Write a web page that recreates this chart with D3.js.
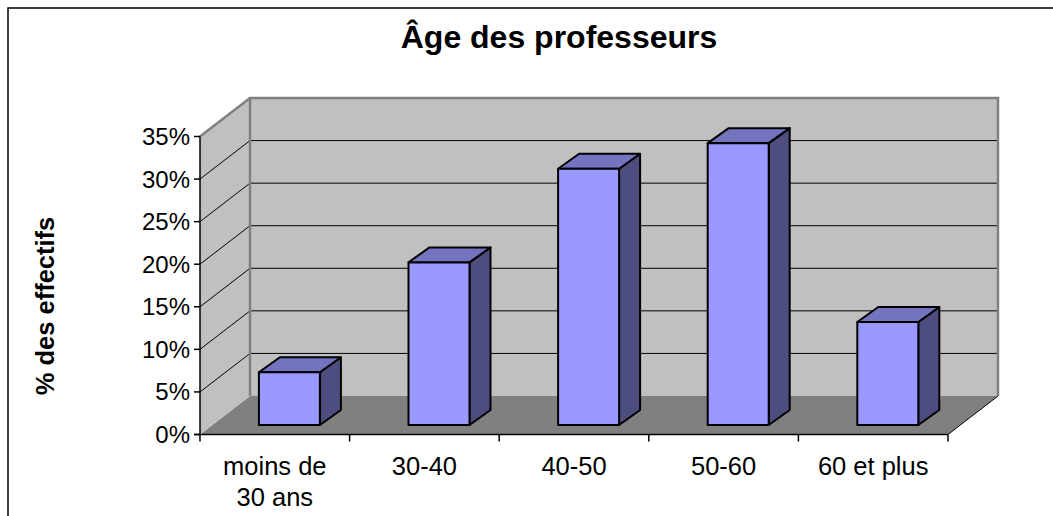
<!DOCTYPE html>
<html>
<head>
<meta charset="utf-8">
<script src="https://cdn.jsdelivr.net/npm/d3@7/dist/d3.min.js"></script>
<style>
  html, body { margin: 0; padding: 0; background: #fff; }
  svg { display: block; font-family: "Liberation Sans", Arial, sans-serif; }
</style>
</head>
<body>
<svg id="chart" width="1053" height="516"></svg>
<script>
// ---- data ----
const categories = ["moins de\n30 ans", "30-40", "40-50", "50-60", "60 et plus"];
const values = [0.062, 0.191, 0.301, 0.331, 0.121];
const yTicks = [0, 0.05, 0.10, 0.15, 0.20, 0.25, 0.30, 0.35];
const titleText = "Âge des professeurs";
const yAxisTitle = "% des effectifs";

// ---- layout ----
const svg = d3.select("#chart");
const X0 = 200, X1 = 948;
const Y0 = 434.5, Ytop = 136.5;
const wallDX = 50, wallDY = -38.5;
const barOffX = 14.6, barOffY = -9.5;
const barDX = 21, barDY = -15;
const barW = 61;

const x = d3.scaleBand().domain(categories).range([X0, X1]).padding(0);
const y = d3.scaleLinear().domain([0, 0.35]).range([Y0, Ytop]);

svg.append("path")
  .attr("d", `M8,520 L8,8 L1060,8`)
  .attr("fill", "none").attr("stroke", "#000").attr("stroke-width", 1.5);

svg.append("text")
  .attr("x", 559).attr("y", 48)
  .attr("text-anchor", "middle")
  .attr("font-weight", "bold").attr("font-size", 32)
  .text(titleText);

svg.append("path")
  .attr("d", `M${X0},${Y0} L${X1},${Y0} L${X1 + wallDX},${Y0 + wallDY} L${X0 + wallDX},${Y0 + wallDY} Z`)
  .attr("fill", "#808080");

svg.append("path")
  .attr("d", `M${X0},${Y0} L${X0},${Ytop} L${X0 + wallDX},${Ytop + wallDY} L${X0 + wallDX},${Y0 + wallDY} Z`)
  .attr("fill", "#c0c0c0");

svg.append("rect")
  .attr("x", X0 + wallDX).attr("y", Ytop + wallDY)
  .attr("width", X1 - X0).attr("height", Y0 - Ytop)
  .attr("fill", "#c0c0c0");

const grid = svg.append("g");
yTicks.filter(t => t > 0 && t < 0.35).forEach(t => {
  const yy = y(t);
  grid.append("line")
    .attr("x1", X0).attr("y1", yy).attr("x2", X0 + wallDX).attr("y2", yy + wallDY)
    .attr("stroke", "#000").attr("stroke-width", 1);
  grid.append("line")
    .attr("x1", X0 + wallDX).attr("y1", yy + wallDY).attr("x2", X1 + wallDX).attr("y2", yy + wallDY)
    .attr("stroke", "#000").attr("stroke-width", 1);
});

svg.append("path")
  .attr("d", `M${X0},${Ytop} L${X0 + wallDX},${Ytop + wallDY} L${X1 + wallDX},${Ytop + wallDY} L${X1 + wallDX},${Y0 + wallDY}`)
  .attr("fill", "none").attr("stroke", "#808080").attr("stroke-width", 2.5);
svg.append("line")
  .attr("x1", X0 + wallDX).attr("y1", Ytop + wallDY).attr("x2", X0 + wallDX).attr("y2", Y0 + wallDY)
  .attr("stroke", "#808080").attr("stroke-width", 2.5);

svg.append("line")
  .attr("x1", X1).attr("y1", Y0).attr("x2", X1 + wallDX).attr("y2", Y0 + wallDY)
  .attr("stroke", "#000").attr("stroke-width", 1);

const bars = svg.append("g");
categories.forEach((c, i) => {
  const v = values[i];
  const cx = x(c) + x.bandwidth() / 2 + barOffX;
  const l = cx - barW / 2, r = cx + barW / 2;
  const b = Y0 + barOffY;
  const t = y(v) + barOffY;
  const g = bars.append("g")
    .attr("stroke", "#000").attr("stroke-width", 2).attr("stroke-linejoin", "round");
  g.append("path")
    .attr("d", `M${r},${b} L${r},${t} L${r + barDX},${t + barDY} L${r + barDX},${b + barDY} Z`)
    .attr("fill", "#4d4d80");
  g.append("path")
    .attr("d", `M${l},${t} L${r},${t} L${r + barDX},${t + barDY} L${l + barDX},${t + barDY} Z`)
    .attr("fill", "#7373c0");
  g.append("rect")
    .attr("x", l).attr("y", t).attr("width", barW).attr("height", b - t)
    .attr("fill", "#9999ff");
});

const yAxis = svg.append("g");
yAxis.append("line")
  .attr("x1", X0).attr("y1", Ytop).attr("x2", X0).attr("y2", Y0)
  .attr("stroke", "#000").attr("stroke-width", 1.5);
yTicks.forEach(t => {
  yAxis.append("line")
    .attr("x1", X0 - 6).attr("y1", y(t)).attr("x2", X0).attr("y2", y(t))
    .attr("stroke", "#000").attr("stroke-width", 1.5);
  yAxis.append("text")
    .attr("x", 190).attr("y", y(t) + 8.5)
    .attr("text-anchor", "end").attr("font-size", 24)
    .text(d3.format(".0%")(t));
});

const xAxis = svg.append("g");
xAxis.append("line")
  .attr("x1", X0 - 6).attr("y1", Y0).attr("x2", X1).attr("y2", Y0)
  .attr("stroke", "#000").attr("stroke-width", 1.5);
const bounds = categories.map(c => x(c)).concat([X1]);
bounds.forEach(bx => {
  xAxis.append("line")
    .attr("x1", bx).attr("y1", Y0).attr("x2", bx).attr("y2", Y0 + 7)
    .attr("stroke", "#000").attr("stroke-width", 1.5);
});
categories.forEach(c => {
  const lines = c.split("\n");
  const tx = xAxis.append("text")
    .attr("x", x(c) + x.bandwidth() / 2)
    .attr("y", 475)
    .attr("text-anchor", "middle").attr("font-size", 25.5);
  lines.forEach((ln, k) => {
    tx.append("tspan").attr("x", x(c) + x.bandwidth() / 2).attr("dy", k === 0 ? 0 : 31).text(ln);
  });
});

svg.append("text")
  .attr("transform", "translate(54,306) rotate(-90)")
  .attr("text-anchor", "middle")
  .attr("font-weight", "bold").attr("font-size", 25.5)
  .text(yAxisTitle);
</script>
</body>
</html>
